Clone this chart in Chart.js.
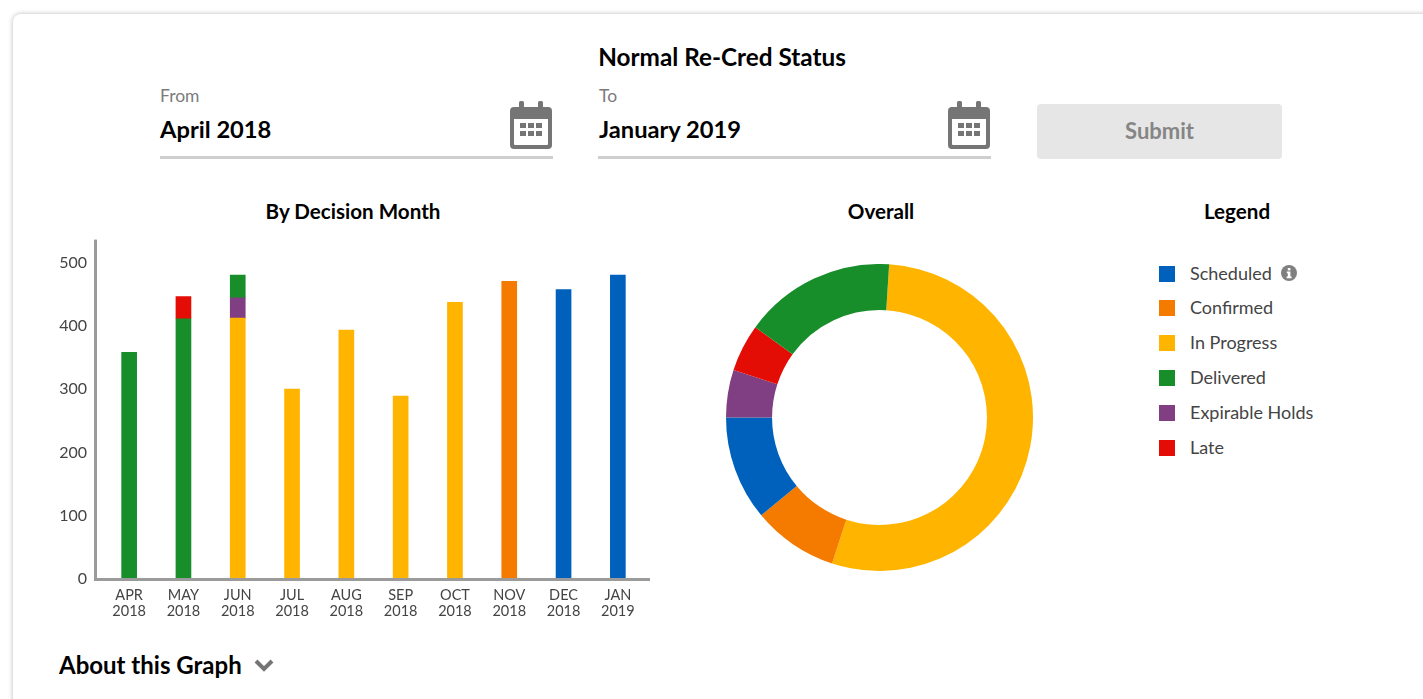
<!DOCTYPE html>
<html>
<head>
<meta charset="utf-8">
<title>Normal Re-Cred Status</title>
<script src="https://cdn.jsdelivr.net/npm/chart.js@4"></script>
<style>
  html, body { margin: 0; height: 100%; background: #fff; overflow: hidden; }
  body { font-family: Lato, sans-serif; color: #000; position: relative; width: 1423px; height: 699px; }
  .card { position: absolute; left: 13px; top: 14px; width: 1440px; height: 720px; border-radius: 8px; background: #fff;
          box-shadow: 0 0 5px rgba(0,0,0,0.28); }
  .t { position: absolute; white-space: nowrap; line-height: 1; }
  .center { transform: translateX(-50%); }
  .title { font-weight: 700; font-size: 20.6px; }
  .label { font-size: 17.5px; color: #7b7b7b; }
  .value { font-weight: 700; font-size: 23.7px; }
  .rule { position: absolute; height: 3px; top: 156px; width: 393px; background: #cfcfcf; }
  .submit { position: absolute; left: 1037px; top: 104px; width: 245px; height: 55px; border-radius: 4px; background: #e6e6e6;
            color: #858585; font-weight: 700; font-size: 22px; line-height: 54px; text-align: center; }
  .swatch { position: absolute; left: 1159px; width: 16px; height: 16px; }
  .legend-text { font-size: 18px; color: #444; }
  canvas { position: absolute; }
  svg { position: absolute; }
</style>
</head>
<body>
<div class="card"></div>

<div class="t center" style="left:722px;top:45px;font-weight:700;font-size:24.3px">Normal Re-Cred Status</div>

<div class="t label" style="left:160px;top:87px">From</div>
<div class="t value" style="left:160px;top:118px">April 2018</div>
<div class="rule" style="left:160px"></div>
<svg style="left:510px;top:101px" width="42" height="48" viewBox="0 0 42 48"><use href="#cal"/></svg>

<div class="t label" style="left:599px;top:87px">To</div>
<div class="t value" style="left:599px;top:118px">January 2019</div>
<div class="rule" style="left:598px"></div>
<svg style="left:948px;top:101px" width="42" height="48" viewBox="0 0 42 48">
  <defs>
    <g id="cal" fill="#757575">
      <rect x="9" y="0" width="5" height="10" rx="1.5"/>
      <rect x="28" y="0" width="5" height="10" rx="1.5"/>
      <path fill-rule="evenodd" d="M4 6h34a4 4 0 0 1 4 4v34a4 4 0 0 1-4 4H4a4 4 0 0 1-4-4V10a4 4 0 0 1 4-4zM4 18v25a1 1 0 0 0 1 1h32a1 1 0 0 0 1-1V18z"/>
      <rect x="10" y="22" width="6" height="5"/><rect x="18" y="22" width="6" height="5"/><rect x="26" y="22" width="6" height="5"/>
      <rect x="10" y="30" width="6" height="5"/><rect x="18" y="30" width="6" height="5"/><rect x="26" y="30" width="6" height="5"/>
    </g>
  </defs>
  <use href="#cal"/>
</svg>

<div class="submit">Submit</div>

<div class="t title center" style="left:353px;top:201px">By Decision Month</div>
<div class="t title center" style="left:881px;top:201px">Overall</div>
<div class="t title center" style="left:1237px;top:201px">Legend</div>

<canvas id="barChart" width="620" height="407" style="left:40px;top:223px"></canvas>
<canvas id="donutChart" width="307" height="307" style="left:726px;top:264px"></canvas>
<div id="legend"></div>

<svg style="left:1281px;top:265px" width="16" height="16" viewBox="0 0 16 16">
  <circle cx="8" cy="8" r="8" fill="#808080"/>
  <rect x="6.8" y="3" width="2.6" height="2.4" fill="#fff"/>
  <path d="M5.8 6.6h3.6v5h1.2v1.6H5.6v-1.6h1.2V8.2h-1z" fill="#fff"/>
</svg>

<div class="t" style="left:59px;top:653px;font-weight:700;font-size:24px">About this Graph</div>
<svg style="left:253px;top:658px" width="22" height="15" viewBox="0 0 22 15">
  <path d="M3 3l8 8 8-8" fill="none" stroke="#757575" stroke-width="4"/>
</svg>

<script>
const months = [['APR', '2018'], ['MAY', '2018'], ['JUN', '2018'], ['JUL', '2018'], ['AUG', '2018'],
                ['SEP', '2018'], ['OCT', '2018'], ['NOV', '2018'], ['DEC', '2018'], ['JAN', '2019']];
const yTickValues = [0, 100, 200, 300, 400, 500];

// stacked values per month
const scheduled = [null, null, null, null, null, null, null, null, 457, 480];
const confirmed = [null, null, null, null, null, null, null, 470, null, null];
const inProgress = [null, null, 412, 300, 393, 289, 437, null, null, null];
const expirable = [null, null, 32, null, null, null, null, null, null, null];
const delivered = [358, 411, 36, null, null, null, null, null, null, null];
const late = [null, 35, null, null, null, null, null, null, null, null];

const legendLabels = ['Scheduled', 'Confirmed', 'In Progress', 'Delivered', 'Expirable Holds', 'Late'];
const legendColors = ['#0061bd', '#f57a00', '#ffb400', '#178e2a', '#7f3f82', '#e30d05'];
const legendRows = [274, 308, 343, 378, 413, 448];

// overall share in percent, clockwise from the top
const donutLabels = ['In Progress', 'Confirmed', 'Scheduled', 'Expirable Holds', 'Late', 'Delivered'];
const donutValues = [54, 9, 11, 5, 5, 16];
const donutColors = ['#ffb400', '#f57a00', '#0061bd', '#7f3f82', '#e30d05', '#178e2a'];

const axisColor = '#9b9b9b';
const tickColor = '#444';

// axis lines run past the first and last category, so the scale border is not enough
const axisLines = {
  id: 'axisLines',
  afterDatasetsDraw(chart) {
    const { ctx, chartArea } = chart;
    ctx.save();
    ctx.fillStyle = axisColor;
    ctx.fillRect(chartArea.left - 8, chartArea.top, 3, chartArea.bottom - chartArea.top + 2);
    ctx.fillRect(chartArea.left - 8, chartArea.bottom - 1, chartArea.right - chartArea.left + 13, 3);
    ctx.restore();
  },
};

function barSet(label, data, color) {
  return { label, data, backgroundColor: color, barThickness: 15, borderWidth: 0 };
}

new Chart(document.getElementById('barChart'), {
  type: 'bar',
  data: {
    labels: months,
    datasets: [
      barSet('Scheduled', scheduled, legendColors[0]),
      barSet('Confirmed', confirmed, legendColors[1]),
      barSet('In Progress', inProgress, legendColors[2]),
      barSet('Expirable Holds', expirable, legendColors[4]),
      barSet('Delivered', delivered, legendColors[3]),
      barSet('Late', late, legendColors[5]),
    ],
  },
  options: {
    responsive: false,
    animation: false,
    layout: { padding: { top: 10, right: 15, left: 0, bottom: 0 } },
    plugins: { legend: { display: false }, tooltip: { enabled: false } },
    scales: {
      x: {
        stacked: true,
        grid: { display: false },
        border: { display: false },
        afterFit: (scale) => { scale.height = 51; },
        ticks: { color: tickColor, padding: 0, autoSkip: false, maxRotation: 0, font: { family: 'Lato', size: 14.5, lineHeight: 1.1 } },
      },
      y: {
        stacked: true,
        min: 0,
        max: 536,
        grid: { display: false },
        border: { display: false },
        afterBuildTicks: (scale) => { scale.ticks = yTickValues.map((value) => ({ value })); },
        afterFit: (scale) => { scale.width = 62; },
        ticks: { color: tickColor, padding: 7, font: { family: 'Lato', size: 16 } },
      },
    },
  },
  plugins: [axisLines],
});

new Chart(document.getElementById('donutChart'), {
  type: 'doughnut',
  data: {
    labels: donutLabels,
    datasets: [{ data: donutValues, backgroundColor: donutColors, borderWidth: 0, hoverOffset: 0 }],
  },
  options: {
    responsive: false,
    animation: false,
    cutout: '70%',
    rotation: 3.6,
    plugins: { legend: { display: false }, tooltip: { enabled: false } },
  },
});

const legend = document.getElementById('legend');
legendLabels.forEach((label, i) => {
  const swatch = document.createElement('div');
  swatch.className = 'swatch';
  swatch.style.top = (legendRows[i] - 8) + 'px';
  swatch.style.background = legendColors[i];
  const text = document.createElement('div');
  text.className = 't legend-text';
  text.style.left = '1190px';
  text.style.top = (legendRows[i] - 10) + 'px';
  text.textContent = label;
  legend.append(swatch, text);
});
</script>
</body>
</html>
